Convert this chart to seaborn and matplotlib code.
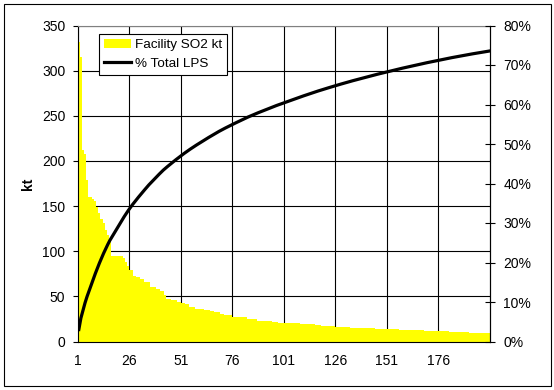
import numpy as np
import pandas as pd
import matplotlib
matplotlib.use("Agg")
import matplotlib.pyplot as plt
import seaborn as sns
from matplotlib.ticker import FuncFormatter
from matplotlib.patches import Rectangle

# ---- data ----
facility_so2_kt = (
    [332, 315, 212, 208, 179, 160, 160, 158, 156, 149, 142, 136, 131, 124, 118, 112]
    + [95] * 6 + [92, 88, 84] + [79] * 2 + [73] + [71] * 2 + [69] * 2 + [66] * 3
    + [60] * 3 + [58] * 2 + [56] * 2 + [51] + [47] * 2 + [46] * 3 + [44] * 2
    + [43] * 2 + [41] * 2 + [38.5] * 3 + [36] * 4 + [35] * 3 + [34] * 2 + [33] * 3
    + [31] * 2 + [29] * 4 + [27.5] * 7 + [24.6] * 5 + [22.7] * 7 + [22] * 3
    + [20.5] * 11 + [19.4] * 7 + [18.3] * 3 + [17.5] * 7 + [16.6] * 7
    + [15.2] * 12 + [14] * 12 + [12.9] * 12 + [11.8] * 12 + [10.7] * 10 + [9.5] * 10
)
total_lps_kt = 10930  # total LPS emissions implied by the % line
rank = list(range(1, len(facility_so2_kt) + 1))
x_tick_labels = ["1", "26", "51", "76", "101", "126", "151", "176"]
left_ticks = [0, 50, 100, 150, 200, 250, 300, 350]
right_ticks = [0, 10, 20, 30, 40, 50, 60, 70, 80]

df = pd.DataFrame({"rank": rank, "so2": facility_so2_kt})
df["pos"] = df["rank"] - 1
df["pct_total"] = df["so2"].cumsum() / total_lps_kt * 100

plt.rcParams["font.family"] = ["Liberation Sans", "DejaVu Sans"]
plt.rcParams["font.size"] = 10

W, H = 554, 390
fig = plt.figure(figsize=(W / 100, H / 100), dpi=100)
L, R, T, B = 77.8, 490.0, 25.5, 341.5
ax = fig.add_axes([L / W, (H - B) / H, (R - L) / W, (B - T) / H])

sns.barplot(data=df, x="rank", y="so2", color="#FFFF00", saturation=1,
            width=1.0, linewidth=0, ax=ax)
ax.set_xlim(-0.5, len(rank) - 0.5)
ax.set_ylim(0, 350)
ax.set_yticks(left_ticks)

tick_idx = [rank.index(int(s)) for s in x_tick_labels]
ax.set_xticks([i - 0.5 for i in tick_idx])
ax.set_xticklabels(x_tick_labels)
ax.set_axisbelow(True)
ax.grid(True, axis="both", color="black", linewidth=0.8)
ax.set_xlabel("")
ax.set_ylabel("kt", fontweight="bold", fontsize=10, labelpad=5)

ax.tick_params(axis="x", length=0, pad=9, labelsize=10)
ax.tick_params(axis="y", direction="out", length=3.5, width=0.8, pad=5.5, labelsize=10)

ax2 = ax.twinx()
sns.lineplot(data=df, x="pos", y="pct_total", color="black", linewidth=2.3, ax=ax2)
ax2.set_xlim(-0.5, len(rank) - 0.5)
ax2.set_ylim(0, 80)
ax2.set_yticks(right_ticks)
ax2.yaxis.set_major_formatter(FuncFormatter(lambda v, p: f"{v:.0f}%"))
ax2.set_ylabel("")
ax2.tick_params(axis="y", direction="inout", length=7.2, width=0.8, pad=6, labelsize=10)

for a in (ax, ax2):
    for s in a.spines.values():
        s.set_linewidth(0.8)
        s.set_color("black")
ax.spines["top"].set_color("#808080")
ax2.spines["top"].set_visible(False)
ax2.spines["left"].set_visible(False)
ax2.spines["bottom"].set_visible(False)

handles = [ax.patches[0], ax2.lines[0]]
leg = ax2.legend(handles, ["Facility SO2 kt", "% Total LPS"], loc="upper left",
                 bbox_to_anchor=(0.0514, 0.972), borderaxespad=0, frameon=True,
                 fancybox=False, edgecolor="black", framealpha=1, fontsize=9.7,
                 handlelength=2.0, handletextpad=0.3, borderpad=0.35, labelspacing=0.45)
leg.get_frame().set_linewidth(0.8)

fig.patches.append(Rectangle((4 / W, 4 / H), 547 / W, 382 / H, transform=fig.transFigure,
                             fill=False, edgecolor="black", linewidth=0.8))

fig.savefig("out.png", dpi=100)
